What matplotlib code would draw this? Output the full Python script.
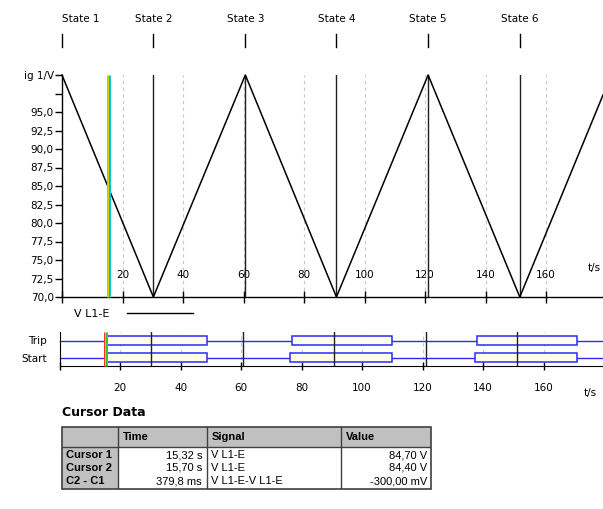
import matplotlib
matplotlib.use('Agg')
import matplotlib.pyplot as plt
import matplotlib.transforms as mtransforms
from matplotlib.patches import Rectangle
from matplotlib.lines import Line2D

plt.rcParams['font.family'] = ['DejaVu Sans']
plt.rcParams['font.size'] = 7.5

# ---------------- data ----------------
state_names = ['State 1', 'State 2', 'State 3', 'State 4', 'State 5', 'State 6']
state_times = [0.0, 30.2, 60.6, 90.7, 121.0, 151.3]

sig_t = [0.0, 30.2, 60.6, 90.7, 121.0, 151.3, 178.8]
sig_v = [100.0, 70.0, 100.0, 70.0, 100.0, 70.0, 97.3]

y_ticks = [70.0, 72.5, 75.0, 77.5, 80.0, 82.5, 85.0, 87.5, 90.0, 92.5, 95.0, 97.5, 100.0]
y_tick_labels = ['70,0', '72,5', '75,0', '77,5', '80,0', '82,5', '85,0', '87,5',
                 '90,0', '92,5', '95,0', '', 'ig 1/V']
x_ticks = [0, 20, 40, 60, 80, 100, 120, 140, 160]
x_tick_labels = ['', '20', '40', '60', '80', '100', '120', '140', '160']
grid_times = [20, 40, 60, 80, 100, 120, 140, 160]

cursor_times = [15.32, 15.70]

digital_names = ['Trip', 'Start']
trip_on = [15.3, 76.7, 138.0]
trip_off = [48.8, 110.0, 170.9]
start_on = [15.0, 76.2, 137.4]
start_off = [48.7, 110.0, 170.9]

table_cols = ['', 'Time', 'Signal', 'Value']
table_rows = ['Cursor 1', 'Cursor 2', 'C2 - C1']
table_time = ['15,32 s', '15,70 s', '379,8 ms']
table_signal = ['V L1-E', 'V L1-E', 'V L1-E-V L1-E']
table_value = ['84,70 V', '84,40 V', '-300,00 mV']

# ---------------- figure ----------------
W, H = 603, 509
fig = plt.figure(figsize=(W / 100, H / 100), dpi=100)


def fx(px):
    return px / W


def fy(py):
    return 1 - py / H


GRID_C = '#c8c8c8'
BLUE = '#2a2aff'
TFONT = ['Liberation Sans', 'DejaVu Sans']

# ---- main analog panel ----
ax = fig.add_axes([fx(62), fy(297), 1 - fx(62), (297 - 75) / H])
ax.set_xlim(0, 178.8)
ax.set_ylim(70, 100)
for s in ['top', 'right']:
    ax.spines[s].set_visible(False)
for s in ['left', 'bottom']:
    ax.spines[s].set_linewidth(1.0)
ax.set_yticks(y_ticks, y_tick_labels)
ax.tick_params(axis='y', direction='out', length=5, width=1, pad=1, labelsize=7.5)
ax.set_xticks(x_ticks, x_tick_labels)
ax.tick_params(axis='x', direction='inout', length=9, width=1, pad=-24, labelsize=7.5)

for t in grid_times:
    ax.axvline(t, color=GRID_C, lw=0.8, ls=(0, (3, 3)), zorder=1)
for t in state_times[1:]:
    ax.axvline(t, color='#202020', lw=1.0, zorder=2)

ax.plot(sig_t, sig_v, color='black', lw=1.1, zorder=3, clip_on=False)


def cursor_stripe(a, colors, t):
    offs = [-1.5, -0.5, 0.5, 1.5]
    for c, o in zip(colors, offs):
        tr = a.transData + mtransforms.ScaledTranslation(o / 100, 0, fig.dpi_scale_trans)
        tr = mtransforms.blended_transform_factory(tr, a.transAxes)
        a.plot([t, t], [0, 1], color=c, lw=0.75, transform=tr, zorder=5, clip_on=False,
               solid_capstyle='butt')


cursor_stripe(ax, ['#f0b000', '#e0d000', '#30c030', '#00c8f0'], cursor_times[0])

# state markers above the plot
blend = mtransforms.blended_transform_factory(ax.transData, fig.transFigure)
for i, (name, t) in enumerate(zip(state_names, state_times)):
    ax.add_line(Line2D([t, t], [fy(34), fy(47)], transform=blend, color='black',
                       lw=1.0, clip_on=False))
    ax.text(t, fy(19), name, transform=blend, ha='left' if i == 0 else 'center',
            va='center', fontsize=7.5)

fig.text(fx(594), fy(268), 't/s', ha='center', va='center', fontsize=7.5)

# legend
leg_line = Line2D([], [], color='black', lw=1.0)
fig.legend([leg_line], ['V L1-E'], markerfirst=False, frameon=False,
           loc='center left', bbox_to_anchor=(fx(74), fy(314)), borderpad=0,
           borderaxespad=0, handlelength=5.9, handletextpad=1.6, fontsize=8)

# ---- digital panel ----
ax2 = fig.add_axes([fx(59.5), fy(366), 1 - fx(59.5), 34 / H])
ax2.set_xlim(0, 179.6)
ax2.set_ylim(-0.5, 1.5)
for s in ['top', 'right']:
    ax2.spines[s].set_visible(False)
ax2.set_yticks([1, 0], digital_names)
ax2.tick_params(axis='y', length=0, pad=9, labelsize=7.5)
ax2.set_xticks(x_ticks, x_tick_labels)
ax2.tick_params(axis='x', direction='inout', length=6, width=1, pad=9, labelsize=7.5)

for t in grid_times:
    ax2.axvline(t, color=GRID_C, lw=0.8, ls=(0, (3, 3)), zorder=1)

for row, ons, offs in [(1, trip_on, trip_off), (0, start_on, start_off)]:
    ax2.plot([0, 179.6], [row, row], color=BLUE, lw=1.0, zorder=2, clip_on=False)
    for a, b in zip(ons, offs):
        ax2.add_patch(Rectangle((a, row - 0.27), b - a, 0.54, facecolor='#fffde3',
                                edgecolor=BLUE, lw=1.1, zorder=3))

for t in state_times[1:]:
    ax2.axvline(t, color='#202020', lw=1.0, zorder=4)

cursor_stripe(ax2, ['#ff3020', '#f0c000', '#30c030', '#00c8f0'], cursor_times[0])

fig.text(fx(590), fy(393), 't/s', ha='center', va='center', fontsize=7.5)

# ---- cursor data table ----
fig.text(fx(62), fy(412), 'Cursor Data', ha='left', va='center', fontsize=9,
         fontweight='bold')

tx0, tx1, ty0, ty1 = 62, 431, 427, 489
tax = fig.add_axes([fx(tx0), fy(ty1), (tx1 - tx0) / W, (ty1 - ty0) / H])
tax.set_xlim(tx0, tx1)
tax.set_ylim(ty1, ty0)
tax.axis('off')
col_edges = [62, 118, 207, 341, 431]
head_bot = 447
row_y = [455, 468, 481]
GRAY = '#c0c0c0'
EDGE = '#404040'
tax.add_patch(Rectangle((tx0, ty0), tx1 - tx0, head_bot - ty0, facecolor=GRAY,
                        edgecolor='none'))
tax.add_patch(Rectangle((tx0, head_bot), col_edges[1] - tx0, ty1 - head_bot,
                        facecolor=GRAY, edgecolor='none'))
tax.add_patch(Rectangle((tx0, ty0), tx1 - tx0, ty1 - ty0, facecolor='none',
                        edgecolor=EDGE, lw=1.2, clip_on=False))
for xe in col_edges[1:-1]:
    tax.plot([xe, xe], [ty0, ty1], color=EDGE, lw=1.0)
tax.plot([tx0, tx1], [head_bot, head_bot], color=EDGE, lw=1.0)

hy = (ty0 + head_bot) / 2
for j, name in enumerate(table_cols):
    if name:
        tax.text(col_edges[j] + 5, hy, name, ha='left', va='center', fontsize=8,
                 fontweight='bold', family=TFONT)
for i, y in enumerate(row_y):
    tax.text(col_edges[0] + 4, y, table_rows[i], ha='left', va='center', fontsize=8,
             fontweight='bold', family=TFONT)
    tax.text(col_edges[2] - 5, y, table_time[i], ha='right', va='center', fontsize=8,
             family=TFONT)
    tax.text(col_edges[2] + 4, y, table_signal[i], ha='left', va='center', fontsize=8,
             family=TFONT)
    tax.text(col_edges[4] - 4, y, table_value[i], ha='right', va='center', fontsize=8,
             family=TFONT)

fig.savefig('out.png', dpi=100)
